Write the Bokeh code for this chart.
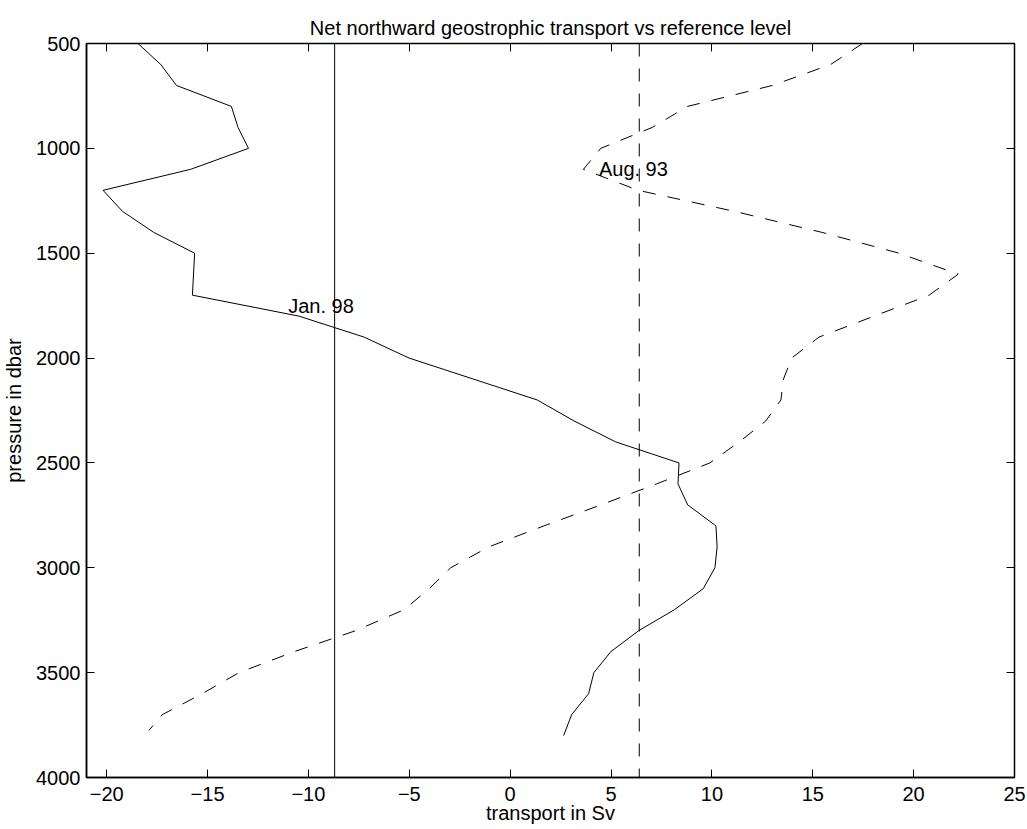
from bokeh.plotting import figure
from bokeh.models import Range1d, LinearAxis, FixedTicker, Span, ColumnDataSource
from bokeh.core.properties import value
from bokeh.embed import file_html
from bokeh.resources import INLINE

# ---- data ----
pressure_jan98 = [500, 600, 700, 800, 900, 1000, 1100, 1200, 1300, 1400, 1500, 1700,
                  1800, 1900, 2000, 2200, 2300, 2400, 2500, 2600, 2700, 2800, 2900,
                  3000, 3100, 3200, 3300, 3400, 3500, 3600, 3700, 3800]
transport_jan98 = [-18.45, -17.32, -16.54, -13.82, -13.49, -12.97, -15.84, -20.18, -19.22,
                   -17.68, -15.64, -15.75, -10.47, -7.24, -5.01, 1.35, 3.17, 5.24, 8.37,
                   8.32, 8.80, 10.20, 10.26, 10.15, 9.57, 8.14, 6.37, 4.99, 4.15, 3.89,
                   3.05, 2.65]

pressure_aug93 = [500, 600, 700, 800, 900, 1000, 1100, 1200, 1300, 1400, 1500, 1600,
                  1700, 1800, 1900, 2000, 2100, 2200, 2300, 2400, 2500, 2600, 2700,
                  2800, 2900, 3000, 3100, 3200, 3300, 3400, 3500, 3600, 3700, 3775]
transport_aug93 = [17.47, 15.89, 13.00, 8.79, 7.05, 4.49, 3.63, 6.34, 11.10, 15.43, 19.28,
                   22.21, 20.77, 18.04, 15.31, 13.95, 13.55, 13.42, 12.67, 11.35, 9.90,
                   7.26, 4.50, 1.68, -1.05, -2.95, -4.02, -5.26, -7.66, -10.71, -13.44,
                   -15.26, -17.24, -17.90]

ref_jan98 = -8.7   # vertical solid line
ref_aug93 = 6.4    # vertical dashed line

label_text = ["Jan. 98", "Aug. 93"]
label_x = [-11.0, 4.4]
label_y = [1750, 1100]

x_ticks = [-20, -15, -10, -5, 0, 5, 10, 15, 20, 25]
x_tick_labels = ["\u221220", "\u221215", "\u221210", "\u22125", "0", "5", "10", "15", "20", "25"]
y_ticks = [500, 1000, 1500, 2000, 2500, 3000, 3500, 4000]

FONT = "Liberation Sans"
FS = "20px"

p = figure(width=1027, height=829, output_backend="svg", toolbar_location=None,
           x_range=Range1d(-21, 25), y_range=Range1d(4000, 500),
           min_border_left=86, min_border_right=13, min_border_top=43, min_border_bottom=52,
           background_fill_color="white", border_fill_color="white")

p.title.text = "Net northward geostrophic transport vs reference level"
p.title.align = "center"
p.title.text_font = FONT
p.title.text_font_size = FS
p.title.text_font_style = "normal"
p.title.text_color = "black"

p.xgrid.visible = False
p.ygrid.visible = False
p.outline_line_color = "black"
p.outline_line_width = 1.5

for ax in (p.xaxis[0], p.yaxis[0]):
    ax.major_tick_in = 8
    ax.major_tick_out = 0
    ax.minor_tick_line_color = None
    ax.axis_line_width = 1.5
    ax.axis_line_color = "black"
    ax.major_tick_line_color = "black"
    ax.major_label_text_font = FONT
    ax.major_label_text_font_size = FS
    ax.major_label_text_color = "black"
    ax.axis_label_text_font = FONT
    ax.axis_label_text_font_size = FS
    ax.axis_label_text_font_style = "normal"
    ax.axis_label_text_color = "black"

p.xaxis.ticker = FixedTicker(ticks=x_ticks)
p.xaxis.major_label_overrides = dict(zip(x_ticks, x_tick_labels))
p.xaxis.axis_label = "transport in Sv"
p.xaxis.major_label_standoff = 9
p.xaxis.axis_label_standoff = -2

p.yaxis.ticker = FixedTicker(ticks=y_ticks)
p.yaxis.axis_label = "pressure in dbar"
p.yaxis.major_label_standoff = 6
p.yaxis.axis_label_standoff = 8

top = LinearAxis(ticker=FixedTicker(ticks=x_ticks), major_label_text_font_size="0px",
                 major_label_standoff=4, major_tick_in=8, major_tick_out=0,
                 minor_tick_line_color=None, axis_line_color=None,
                 major_tick_line_color="black")
right = LinearAxis(ticker=FixedTicker(ticks=y_ticks), major_label_text_font_size="0px",
                   major_label_standoff=0, major_tick_in=8, major_tick_out=0,
                   minor_tick_line_color=None, axis_line_color=None,
                   major_tick_line_color="black")
p.add_layout(top, "above")
p.add_layout(right, "right")

p.add_layout(Span(location=ref_jan98, dimension="height", line_color="black", line_width=1))
p.add_layout(Span(location=ref_aug93, dimension="height", line_color="black", line_width=1,
                  line_dash="13 12"))

p.line(transport_jan98, pressure_jan98, line_color="black", line_width=1)
p.line(transport_aug93, pressure_aug93, line_color="black", line_width=1, line_dash="13 12")

src = ColumnDataSource(dict(x=label_x, y=label_y, t=label_text))
p.text(x="x", y="y", text="t", source=src, text_font=value(FONT), text_font_size=FS,
       text_align="left", text_baseline="middle", text_color="black")

open("out.html", "w").write(file_html(p, INLINE))
